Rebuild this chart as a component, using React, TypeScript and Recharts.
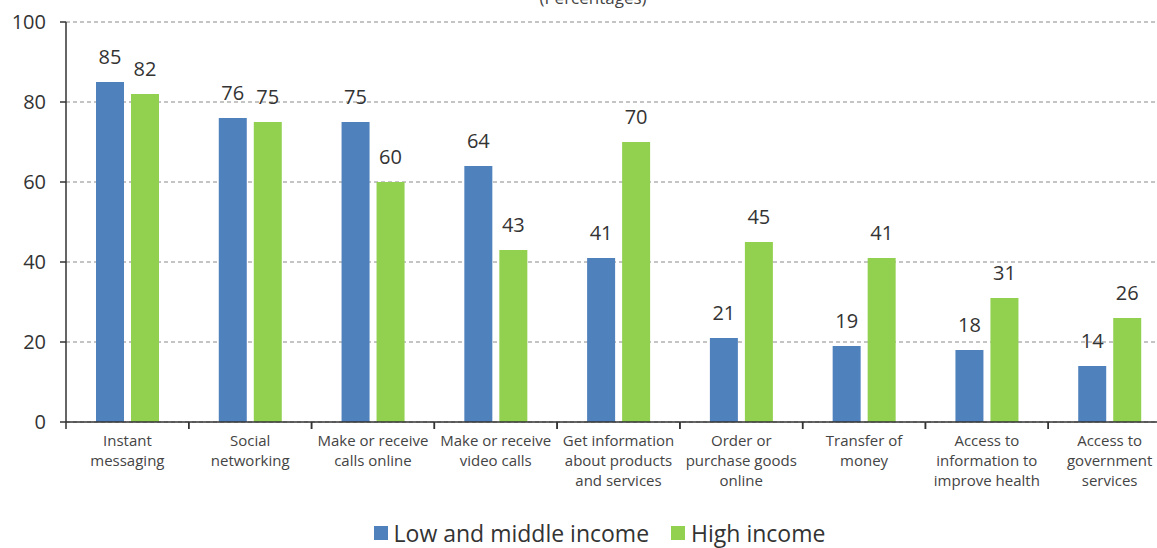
import { BarChart, Bar, XAxis, YAxis, CartesianGrid, Legend, LabelList } from "recharts";

const categories = [
  "Instant\nmessaging",
  "Social\nnetworking",
  "Make or receive\ncalls online",
  "Make or receive\nvideo calls",
  "Get information\nabout products\nand services",
  "Order or\npurchase goods\nonline",
  "Transfer of\nmoney",
  "Access to\ninformation to\nimprove health",
  "Access to\ngovernment\nservices",
];
const lowMiddle = [85, 76, 75, 64, 41, 21, 19, 18, 14];
const highIncome = [82, 75, 60, 43, 70, 45, 41, 31, 26];
const yTicks = [0, 20, 40, 60, 80, 100];

const BLUE = "#4f81bd";
const GREEN = "#92d050";
const FONT = "'Open Sans', 'Noto Sans', sans-serif";

const data = categories.map((c, i) => ({ cat: c, low: lowMiddle[i], high: highIncome[i] }));

function CatTick(props: any) {
  const { x, y, payload, width, visibleTicksCount } = props;
  const bw = width / visibleTicksCount;
  const lines = String(payload.value).split("\n");
  return (
    <g>
      <line x1={x - bw / 2} x2={x - bw / 2} y1={y} y2={y + 7} stroke="#333" strokeWidth={1.5} />
      <line x1={x + bw / 2} x2={x + bw / 2} y1={y} y2={y + 7} stroke="#333" strokeWidth={1.5} />
      <text x={x} y={y + 24} textAnchor="middle" fontSize={15} fill="#444" fontFamily={FONT}>
        {lines.map((l, i) => (
          <tspan key={i} x={x} dy={i === 0 ? 0 : 20}>
            {l}
          </tspan>
        ))}
      </text>
    </g>
  );
}

function LegendContent() {
  const items = [
    { label: "Low and middle income", color: BLUE },
    { label: "High income", color: GREEN },
  ];
  return (
    <div
      style={{
        display: "flex",
        justifyContent: "center",
        gap: 22,
        height: 24,
        lineHeight: "24px",
        fontFamily: FONT,
        fontSize: 23,
        color: "#333",
        paddingLeft: 28,
      }}
    >
      {items.map((it) => (
        <span key={it.label} style={{ display: "flex", alignItems: "center", gap: 6 }}>
          <span style={{ width: 14, height: 14, background: it.color, display: "inline-block" }} />
          <span>{it.label}</span>
        </span>
      ))}
    </div>
  );
}

export default function App() {
  return (
    <div style={{ width: 1157, height: 548, overflow: "hidden", background: "#fff" }}>
      <style>{"body{margin:0}"}</style>
      <BarChart
        width={1172}
        height={548}
        data={data}
        margin={{ top: 22, right: 1, bottom: 0, left: 0 }}
        barSize={28}
        barGap={7}
      >
        <text x={593} y={4} textAnchor="middle" fontSize={17} fill="#444" fontFamily={FONT}>
          (Percentages)
        </text>
        <CartesianGrid vertical={false} strokeDasharray="4 3" stroke="#8a8a8a" />
        <XAxis
          dataKey="cat"
          interval={0}
          tick={<CatTick />}
          tickLine={false}
          tickSize={0}
          tickMargin={0}
          height={102}
          axisLine={{ stroke: "#333", strokeWidth: 1.5 }}
        />
        <YAxis
          domain={[0, 100]}
          ticks={yTicks}
          width={66}
          tickSize={6}
          tickMargin={14}
          tick={{ fontSize: 20, fill: "#333", fontFamily: FONT }}
          tickLine={{ stroke: "#333", strokeWidth: 1.5 }}
          axisLine={{ stroke: "#333", strokeWidth: 1.5 }}
        />
        <Legend verticalAlign="bottom" height={24} wrapperStyle={{ bottom: 3 }} content={<LegendContent />} />
        <Bar dataKey="low" name="Low and middle income" fill={BLUE} isAnimationActive={false}>
          <LabelList dataKey="low" position="top" offset={18} fontSize={20} fill="#333" fontFamily={FONT} />
        </Bar>
        <Bar dataKey="high" name="High income" fill={GREEN} isAnimationActive={false}>
          <LabelList dataKey="high" position="top" offset={18} fontSize={20} fill="#333" fontFamily={FONT} />
        </Bar>
      </BarChart>
    </div>
  );
}
